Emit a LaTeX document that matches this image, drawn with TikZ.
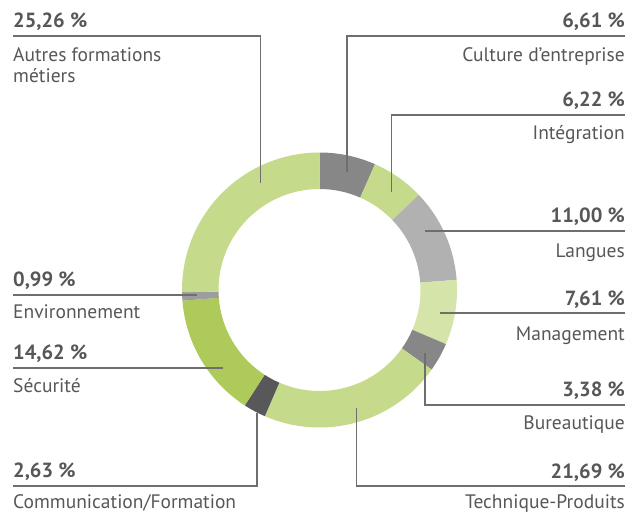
\documentclass[tikz,border=0pt]{standalone}
\usepackage{fontspec}
\setmainfont{PT Sans}
\usetikzlibrary{positioning, calc}

\definecolor{txtgray}{HTML}{575757}
\definecolor{linegray}{HTML}{6E6E6E}
\definecolor{segdark}{HTML}{878787}
\definecolor{seglgreen}{HTML}{C5DA8A}
\definecolor{seglgray}{HTML}{B1B1B2}
\definecolor{segpale}{HTML}{D5E4A9}
\definecolor{segblack}{HTML}{58585A}
\definecolor{seggreen}{HTML}{AECA5A}
\definecolor{segmid}{HTML}{9D9D9D}

\begin{document}
\begin{tikzpicture}[
            x=1pt, y=-1pt,
            val/.style={
                inner sep=0pt,
                text=txtgray,
                font=\fontsize{20.5}{22}\selectfont\bfseries
            },
            lab/.style={
                inner sep=0pt,
                text=txtgray,
                align=left,
                font=\fontsize{19.5}{22}\selectfont
            },
            leader/.style={draw=linegray, line width=1.3pt}
        ]
        \useasboundingbox (0,0) rectangle (630,513);

        % Ring
        \begin{scope}[shift={(319.5,290)}]
            \foreach \v/\c [evaluate=\v as \e using \s-3.6*\v, remember=\e as \s (initially 90)] in
                {6.61/segdark, 6.22/seglgreen, 11.00/seglgray, 7.61/segpale, 3.38/segdark,
                 21.69/seglgreen, 2.63/segblack, 14.62/seggreen, 0.99/segmid, 25.26/seglgreen}
                \fill[\c] (\s:137.5pt) arc[start angle=\s, end angle=\e, radius=137.5pt]
                    -- (\e:101pt) arc[start angle=\e, end angle=\s, radius=101pt] -- cycle;
        \end{scope}

        % Left labels
        \node[val, anchor=base west] (autres-val) at (13,28) {25,26 \%};
        \node[lab, anchor=base west] (autres-lab) at (13,62) {Autres formations};
        \node[lab, anchor=base west] (autres-lab2) at (13,83) {métiers};
        \node[val, anchor=base west] (env-val) at (13,287) {0,99 \%};
        \node[lab, anchor=base west] (env-lab) at (13,319) {Environnement};
        \node[val, anchor=base west] (secu-val) at (13,360) {14,62 \%};
        \node[lab, anchor=base west] (secu-lab) at (13,392) {Sécurité};
        \node[val, anchor=base west] (comm-val) at (13,477) {2,63 \%};
        \node[lab, anchor=base west] (comm-lab) at (13,508) {Communication/Formation};

        % Right labels
        \node[val, anchor=base east] (cult-val) at (625,28) {6,61 \%};
        \node[lab, anchor=base east] (cult-lab) at (625,62) {Culture d’entreprise};
        \node[val, anchor=base east] (integ-val) at (625,107) {6,22 \%};
        \node[lab, anchor=base east] (integ-lab) at (625,140) {Intégration};
        \node[val, anchor=base east] (lang-val) at (625,223) {11,00 \%};
        \node[lab, anchor=base east] (lang-lab) at (625,258) {Langues};
        \node[val, anchor=base east] (mgmt-val) at (625,306) {7,61 \%};
        \node[lab, anchor=base east] (mgmt-lab) at (625,341) {Management};
        \node[val, anchor=base east] (bur-val) at (625,397) {3,38 \%};
        \node[lab, anchor=base east] (bur-lab) at (625,430) {Bureautique};
        \node[val, anchor=base east] (tech-val) at (625,478) {21,69 \%};
        \node[lab, anchor=base east] (tech-lab) at (625,508) {Technique-Produits};

        % Leader ends
        \coordinate (autres-a) at (13,36);
        \coordinate (autres-b) at (260.5,183);
        \coordinate (env-a) at (13,295);
        \coordinate (env-b) at (196.5,295);
        \coordinate (secu-a) at (13,368);
        \coordinate (secu-b) at (223,368);
        \coordinate (comm-a) at (13,486);
        \coordinate (comm-b) at (257,413);
        \coordinate (cult-a) at (625,36);
        \coordinate (cult-b) at (347,172);
        \coordinate (integ-a) at (625,115);
        \coordinate (integ-b) at (391.5,192);
        \coordinate (lang-a) at (625,231);
        \coordinate (lang-b) at (425,231);
        \coordinate (mgmt-a) at (625,313);
        \coordinate (mgmt-b) at (440,313);
        \coordinate (bur-a) at (625,405);
        \coordinate (bur-b) at (425,353);
        \coordinate (tech-a) at (625,486);
        \coordinate (tech-b) at (356.5,408);

        % Leaders
        \draw[leader] (autres-a) -| (autres-b);
        \draw[leader] (env-a) -- (env-b);
        \draw[leader] (secu-a) -- (secu-b);
        \draw[leader] (comm-a) -| (comm-b);
        \draw[leader] (cult-a) -| (cult-b);
        \draw[leader] (integ-a) -| (integ-b);
        \draw[leader] (lang-a) -- (lang-b);
        \draw[leader] (mgmt-a) -- (mgmt-b);
        \draw[leader] (bur-a) -| (bur-b);
        \draw[leader] (tech-a) -| (tech-b);

\end{tikzpicture}
\end{document}
